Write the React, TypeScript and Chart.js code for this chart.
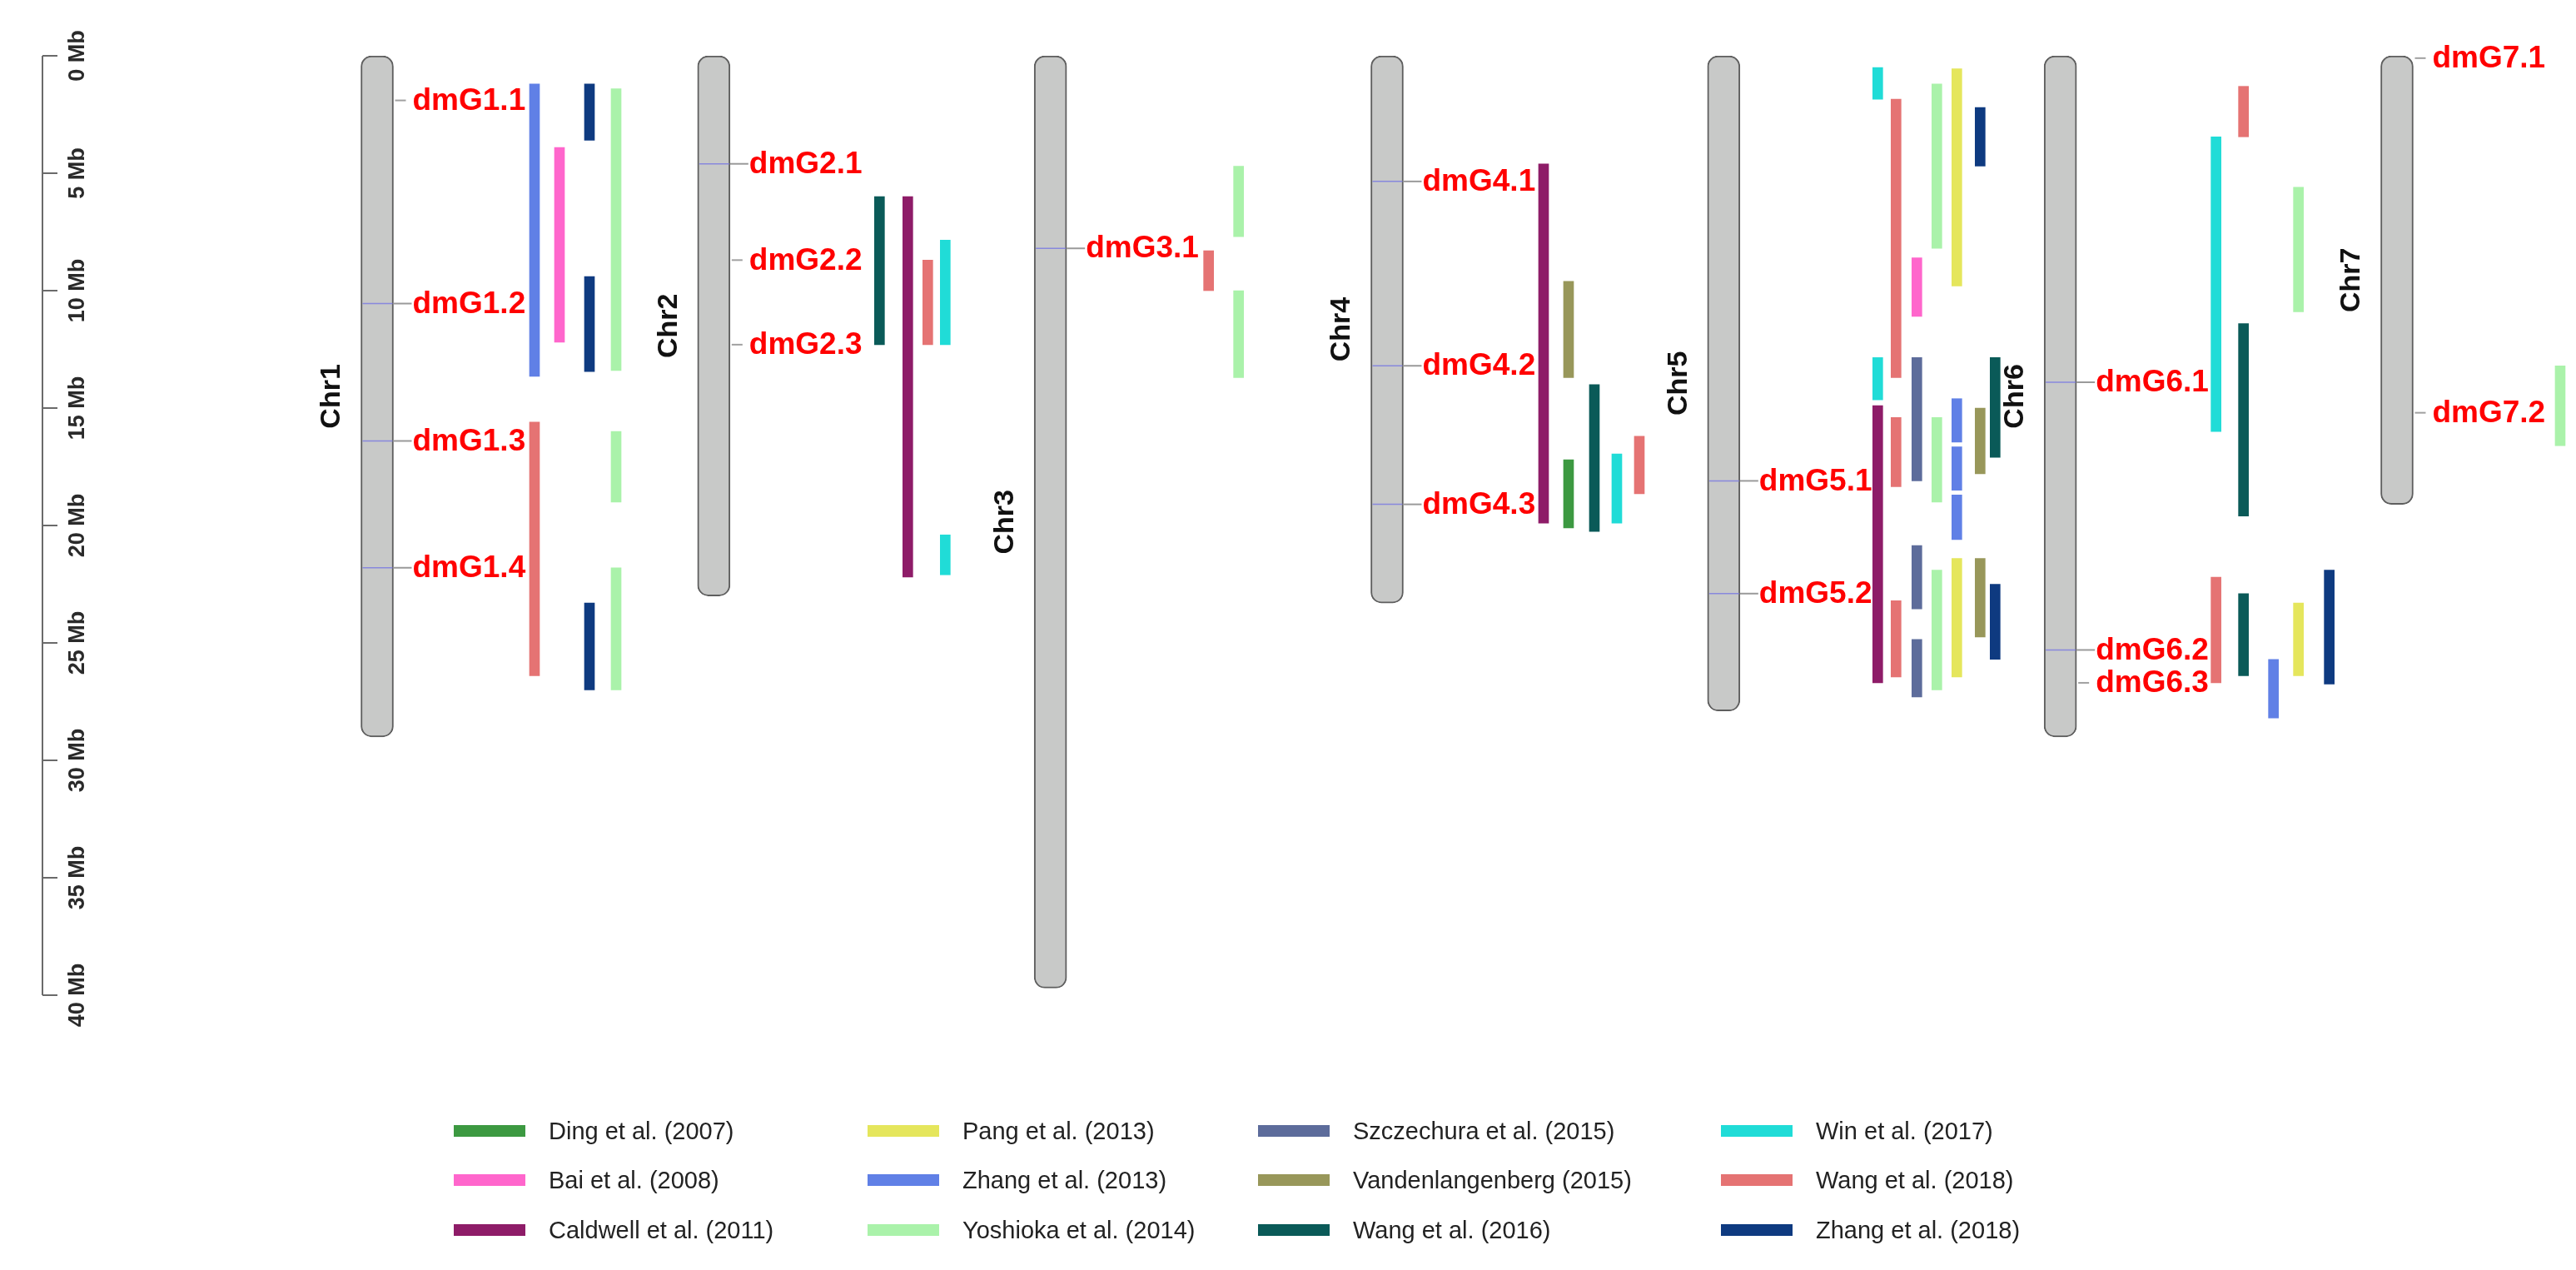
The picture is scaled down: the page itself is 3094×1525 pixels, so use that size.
import React, { useEffect, useRef } from 'react';
import { Chart, registerables } from 'chart.js';

Chart.register(...registerables);

// ---------------- DATA ----------------
const CHROMOSOMES = ['Chr1', 'Chr2', 'Chr3', 'Chr4', 'Chr5', 'Chr6', 'Chr7'];
const CHR_LENGTH_MB = [29.0, 23.0, 39.7, 23.3, 27.9, 29.0, 19.1];

const AXIS_TICKS_MB = [0, 5, 10, 15, 20, 25, 30, 35, 40];
const AXIS_TICK_LABELS = ['0 Mb', '5 Mb', '10 Mb', '15 Mb', '20 Mb', '25 Mb', '30 Mb', '35 Mb', '40 Mb'];

const QTL_NAMES = ['dmG1.1', 'dmG1.2', 'dmG1.3', 'dmG1.4', 'dmG2.1', 'dmG2.2', 'dmG2.3', 'dmG3.1', 'dmG4.1', 'dmG4.2', 'dmG4.3', 'dmG5.1', 'dmG5.2', 'dmG6.1', 'dmG6.2', 'dmG6.3', 'dmG7.1', 'dmG7.2'];
const QTL_CHR = [1, 1, 1, 1, 2, 2, 2, 3, 4, 4, 4, 5, 5, 6, 6, 6, 7, 7];
const QTL_POS_MB = [1.9, 10.55, 16.4, 21.8, 4.6, 8.7, 12.3, 8.2, 5.35, 13.2, 19.1, 18.1, 22.9, 13.9, 25.3, 26.7, 0.1, 15.2];
const QTL_MARKED = [false, true, true, true, true, false, false, true, true, true, true, true, true, true, true, false, false, false];

const STUDIES = [
  'Ding et al. (2007)', 'Bai et al. (2008)', 'Caldwell et al. (2011)',
  'Pang et al. (2013)', 'Zhang et al. (2013)', 'Yoshioka et al. (2014)',
  'Szczechura et al. (2015)', 'Vandenlangenberg (2015)', 'Wang et al. (2016)',
  'Win et al. (2017)', 'Wang et al. (2018)', 'Zhang et al. (2018)',
];
const STUDY_COLORS = [
  '#3C9941', '#FF66CC', '#8E1C68',
  '#E5E65C', '#6080E6', '#AAF2AA',
  '#5D6C9B', '#98975A', '#0A5A58',
  '#20DCD7', '#E57373', '#0E3A80',
];

// intervals: [chromosome, lane, startMb, endMb]
const DING_2007 = [[4, 1, 17.2, 20.1]];
const BAI_2008 = [[1, 1, 3.9, 12.2], [5, 2, 8.6, 11.1]];
const CALDWELL_2011 = [[2, 1, 6.0, 22.2], [4, 0, 4.6, 19.9], [5, 0, 14.9, 26.7]];
const PANG_2013 = [[5, 4, 0.55, 9.8], [5, 4, 21.4, 26.45], [6, 3, 23.3, 26.4]];
const ZHANG_2013 = [[1, 0, 1.2, 13.65], [5, 4, 14.6, 16.45], [5, 4, 16.65, 18.5], [5, 4, 18.7, 20.6], [6, 2, 25.7, 28.2]];
const YOSHIOKA_2014 = [[1, 3, 1.4, 13.4], [1, 3, 16.0, 19.0], [1, 3, 21.8, 27.0], [3, 1, 4.7, 7.7], [3, 1, 10.0, 13.7], [5, 3, 1.2, 8.2], [5, 3, 15.4, 19.0], [5, 3, 21.9, 27.0], [6, 3, 5.6, 10.9], [7, 0, 13.2, 16.6]];
const SZCZECHURA_2015 = [[5, 2, 12.85, 18.1], [5, 2, 20.85, 23.55], [5, 2, 24.85, 27.3]];
const VANDENLANGENBERG_2015 = [[4, 1, 9.6, 13.7], [5, 5, 15.0, 17.8], [5, 5, 21.4, 24.75]];
const WANG_2016 = [[2, 0, 6.0, 12.3], [4, 2, 14.0, 20.25], [5, 6, 12.85, 17.1], [6, 1, 11.4, 19.6], [6, 1, 22.9, 26.4]];
const WIN_2017 = [[2, 3, 7.85, 12.3], [2, 3, 20.4, 22.1], [4, 3, 16.95, 19.9], [5, 0, 0.5, 1.85], [5, 0, 12.85, 14.65], [6, 0, 3.45, 16.0]];
const WANG_2018 = [[1, 0, 15.6, 26.4], [2, 2, 8.7, 12.3], [3, 0, 8.3, 10.0], [4, 4, 16.2, 18.65], [5, 1, 1.85, 13.7], [5, 1, 15.4, 18.35], [5, 1, 23.2, 26.45], [6, 1, 1.3, 3.45], [6, 0, 22.2, 26.7]];
const ZHANG_2018 = [[1, 2, 1.2, 3.6], [1, 2, 9.4, 13.45], [1, 2, 23.3, 27.0], [5, 5, 2.2, 4.7], [5, 6, 22.5, 25.7], [6, 4, 21.9, 26.75]];

const STUDY_INTERVALS = [
  DING_2007, BAI_2008, CALDWELL_2011, PANG_2013, ZHANG_2013, YOSHIOKA_2014,
  SZCZECHURA_2015, VANDENLANGENBERG_2015, WANG_2016, WIN_2017, WANG_2018, ZHANG_2018,
];

// ---------------- LAYOUT ----------------
const W = 3094;
const H = 1525;
const CHR_SPACING_PX = 404.33;
const FIRST_CHR_PX = 453;
const LANE_OFFSET_PX = [
  [189, 219, 255, 287],
  [199, 233, 257, 278],
  [190, 226],
  [188, 218, 249, 276, 303],
  [185, 207, 232, 256, 280, 308, 326],
  [187, 220, 256, 286, 323],
  [196],
];
const X_MIN = 1 - FIRST_CHR_PX / CHR_SPACING_PX;
const X_MAX = X_MIN + W / CHR_SPACING_PX;
const laneX = (chr: number, lane: number) => chr + LANE_OFFSET_PX[chr - 1][lane] / CHR_SPACING_PX;

const FONT = '"Liberation Sans", Arial, sans-serif';

const LEGEND_COL_X = [545, 1042, 1511, 2067];
const LEGEND_ROW_Y = [1358, 1417, 1477];

const overlayPlugin = {
  id: 'overlay',
  afterDatasetsDraw(chart: any) {
    const ctx = chart.ctx as CanvasRenderingContext2D;
    const xs = chart.scales.x;
    const ys = chart.scales.y;
    ctx.save();

    // Mb axis
    const axisX = 51;
    ctx.strokeStyle = '#6a6a6a';
    ctx.lineWidth = 2;
    ctx.beginPath();
    ctx.moveTo(axisX, ys.getPixelForValue(AXIS_TICKS_MB[0]));
    ctx.lineTo(axisX, ys.getPixelForValue(AXIS_TICKS_MB[AXIS_TICKS_MB.length - 1]));
    ctx.stroke();
    AXIS_TICKS_MB.forEach((v, i) => {
      const y = ys.getPixelForValue(v);
      ctx.strokeStyle = '#6a6a6a';
      ctx.beginPath();
      ctx.moveTo(axisX, y);
      ctx.lineTo(axisX + 18, y);
      ctx.stroke();
      ctx.save();
      ctx.translate(axisX + 43, y);
      ctx.rotate(-Math.PI / 2);
      ctx.font = `bold 27px ${FONT}`;
      ctx.fillStyle = '#2a2a2a';
      ctx.textAlign = 'center';
      ctx.textBaseline = 'middle';
      ctx.fillText(AXIS_TICK_LABELS[i], 0, 0);
      ctx.restore();
    });

    // chromosome names
    CHROMOSOMES.forEach((name, i) => {
      const cx = xs.getPixelForValue(i + 1);
      const cy = ys.getPixelForValue(CHR_LENGTH_MB[i] / 2);
      ctx.save();
      ctx.translate(cx - 54, cy);
      ctx.rotate(-Math.PI / 2);
      ctx.font = `bold 34px ${FONT}`;
      ctx.fillStyle = '#111';
      ctx.textAlign = 'center';
      ctx.textBaseline = 'middle';
      ctx.fillText(name, 0, 0);
      ctx.restore();
    });

    // QTL markers and labels
    const half = 19.5;
    QTL_NAMES.forEach((name, i) => {
      const cx = xs.getPixelForValue(QTL_CHR[i]);
      const y = ys.getPixelForValue(QTL_POS_MB[i]);
      if (QTL_MARKED[i]) {
        ctx.strokeStyle = 'rgba(125,125,225,0.85)';
        ctx.lineWidth = 1.5;
        ctx.beginPath();
        ctx.moveTo(cx - half + 2, y);
        ctx.lineTo(cx + half - 1, y);
        ctx.stroke();
        ctx.strokeStyle = '#9a9a9a';
        ctx.lineWidth = 2;
        ctx.beginPath();
        ctx.moveTo(cx + half, y);
        ctx.lineTo(cx + half + 22, y);
        ctx.stroke();
      } else {
        ctx.strokeStyle = '#a0a0a0';
        ctx.lineWidth = 2;
        ctx.beginPath();
        ctx.moveTo(cx + half + 2, y);
        ctx.lineTo(cx + half + 15, y);
        ctx.stroke();
      }
      ctx.font = `bold 37px ${FONT}`;
      ctx.fillStyle = '#FF0000';
      ctx.textAlign = 'left';
      ctx.textBaseline = 'middle';
      ctx.fillText(name, cx + half + 23, y + 1);
    });

    // legend (3 rows, column-major)
    STUDIES.forEach((name, i) => {
      const col = Math.floor(i / 3);
      const row = i % 3;
      const x = LEGEND_COL_X[col];
      const y = LEGEND_ROW_Y[row];
      ctx.fillStyle = STUDY_COLORS[i];
      ctx.fillRect(x, y - 7, 86, 14);
      ctx.font = `29px ${FONT}`;
      ctx.fillStyle = '#222';
      ctx.textAlign = 'left';
      ctx.textBaseline = 'middle';
      ctx.fillText(name, x + 114, y + 2);
    });

    ctx.restore();
  },
};

export default function App() {
  const canvasRef = useRef<HTMLCanvasElement | null>(null);

  useEffect(() => {
    const canvas = canvasRef.current;
    if (!canvas) return;

    const chrDataset = {
      label: 'chromosomes',
      data: CHR_LENGTH_MB.map((len, i) => ({ x: i + 1, y: [0, len] })),
      backgroundColor: '#C8C9C8',
      borderColor: '#5e5e5e',
      borderWidth: 2,
      borderRadius: 13,
      borderSkipped: false,
      barThickness: 39,
      stack: 'all',
      grouped: true,
      order: 100,
    };

    const studyDatasets = STUDIES.map((name, s) => ({
      label: name,
      data: STUDY_INTERVALS[s].map(([chr, lane, a, b]) => ({ x: laneX(chr, lane), y: [a, b] })),
      backgroundColor: STUDY_COLORS[s],
      borderWidth: 0,
      barThickness: 12,
      stack: 'all',
      grouped: true,
      order: 1,
    }));

    const chart = new Chart(canvas, {
      type: 'bar',
      data: { datasets: [...studyDatasets, chrDataset] as any },
      options: {
        animation: false,
        responsive: false,
        devicePixelRatio: 1,
        events: [],
        layout: { padding: { top: 67, bottom: 330, left: 0, right: 0 } },
        scales: {
          x: { type: 'linear', min: X_MIN, max: X_MAX, display: false, offset: false },
          y: { type: 'linear', min: 0, max: 40, reverse: true, display: false, stacked: false, beginAtZero: true },
        },
        plugins: {
          legend: { display: false },
          tooltip: { enabled: false },
        },
      } as any,
      plugins: [overlayPlugin],
    });

    return () => chart.destroy();
  }, []);

  return (
    <div style={{ position: 'fixed', left: 0, top: 0, width: W, height: H, background: '#ffffff' }}>
      <canvas ref={canvasRef} width={W} height={H} style={{ width: W, height: H, display: 'block' }} />
    </div>
  );
}
